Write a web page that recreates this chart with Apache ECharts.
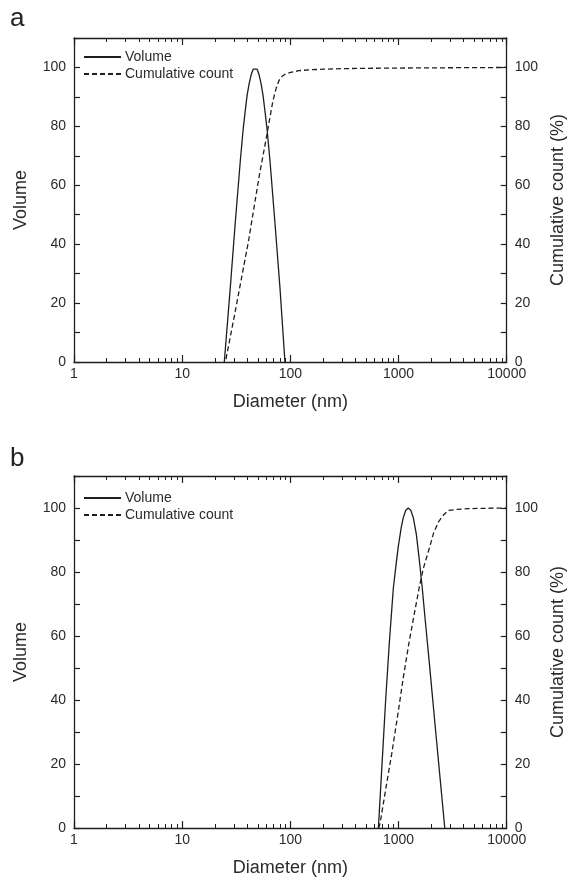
<!DOCTYPE html>
<html>
<head>
<meta charset="utf-8">
<script src="https://cdn.jsdelivr.net/npm/echarts@6/dist/echarts.min.js"></script>
<style>html,body{margin:0;padding:0;background:#fff}#c{width:575px;height:880px}</style>
</head>
<body>
<div id="c"></div>
<script>
// ---- data ----
const panelLabels = ['a', 'b'];
const seriesNames = ['Volume', 'Cumulative count'];
const xTitle = 'Diameter (nm)';
const yLeftTitle = 'Volume';
const yRightTitle = 'Cumulative count (%)';
const xMajorTicks = [1, 10, 100, 1000, 10000];
const xMinorTicks = [2,3,4,5,6,7,8,9,20,30,40,50,60,70,80,90,200,300,400,500,600,700,800,900,2000,3000,4000,5000,6000,7000,8000,9000];

// panel a
const volA_d = [24.5, 27.8, 30.9, 34.4, 36.6, 38.2, 39.8, 41.6, 43.4, 45.3, 47.2, 49.3, 51.4, 53.6, 55.9, 58.3, 60.9, 64.9, 72.1, 80.2, 89.1];
const volA_v = [0, 25, 47, 68, 79, 85, 90.5, 94.5, 97.5, 99.4, 100, 99.4, 97.5, 94.5, 90.5, 85, 79, 68, 47, 25, 0];
const cumA_d = [25.4, 30.5, 36.0, 41, 46.2, 52, 59.2, 64, 69.0, 74, 78.4, 84, 90.3, 100, 119.7, 150, 200, 300, 500, 1000, 3000, 10000];
const cumA_v = [1, 16, 30, 41, 52.6, 64, 75, 82, 88.7, 93, 95.5, 97, 97.8, 98.3, 98.9, 99.2, 99.4, 99.6, 99.7, 99.8, 99.9, 100];

// panel b
const volB_d = [651, 709, 760, 822, 895, 954, 995, 1060, 1106, 1166, 1230, 1297, 1368, 1457, 1553, 1656, 1764, 1920, 2192, 2421, 2674];
const volB_v = [0, 22, 40, 58, 75, 83, 88, 94, 97, 99.3, 100, 99.3, 97, 92, 84, 75, 65, 52, 31, 15.5, 0];
const cumB_d = [655, 675, 760, 863, 980, 1106, 1250, 1417, 1550, 1690, 1947, 2100, 2321, 2600, 2867, 3500, 4375, 6000, 10000];
const cumB_v = [0, 1.5, 12, 23, 35, 47, 58, 68, 75, 81, 88, 92, 95.5, 97.8, 99.2, 99.6, 99.8, 99.9, 100];

// ---- chart ----
const FONT = 'Liberation Sans, Arial, Helvetica, sans-serif';
const INK = '#1e1e1e';
const TXT = '#2a2a2a';
const grids = [
  {left: 74, right: 66, top: 38, height: 324},
  {left: 74, right: 66, top: 476, height: 352}
];
const legendTops = [50, 491];
const labelTops = [6, 446];
const pair = (xs, ys) => xs.map((x, i) => [x, ys[i]]);

const xAxes = [], yAxes = [], series = [], legends = [], graphics = [];
grids.forEach((g, gi) => {
  const baseX = {
    type: 'log', logBase: 10, min: 1, max: 10000, gridIndex: gi,
    splitLine: {show: false}
  };
  // bottom major + labels + name
  xAxes.push(Object.assign({}, baseX, {
    position: 'bottom',
    axisLine: {show: true, onZero: false, lineStyle: {color: INK, width: 1.3}},
    axisTick: {show: true, inside: true, length: 7, customValues: xMajorTicks, lineStyle: {color: INK, width: 1.2}},
    axisLabel: {show: true, customValues: xMajorTicks, margin: 5, color: TXT, fontSize: 14, fontFamily: FONT,
      formatter: v => String(Math.round(v))},
    name: xTitle, nameLocation: 'middle', nameGap: 31,
    nameTextStyle: {color: TXT, fontSize: 18, fontFamily: FONT}
  }));
  // bottom minor
  xAxes.push(Object.assign({}, baseX, {
    position: 'bottom',
    axisLine: {show: false, onZero: false},
    axisTick: {show: true, inside: true, length: 4, customValues: xMinorTicks, lineStyle: {color: INK, width: 1}},
    axisLabel: {show: false}
  }));
  // top major
  xAxes.push(Object.assign({}, baseX, {
    position: 'top',
    axisLine: {show: true, onZero: false, lineStyle: {color: INK, width: 1.3}},
    axisTick: {show: true, inside: true, length: 7, customValues: xMajorTicks, lineStyle: {color: INK, width: 1.2}},
    axisLabel: {show: false}
  }));
  // top minor
  xAxes.push(Object.assign({}, baseX, {
    position: 'top',
    axisLine: {show: false, onZero: false},
    axisTick: {show: true, inside: true, length: 4, customValues: xMinorTicks, lineStyle: {color: INK, width: 1}},
    axisLabel: {show: false}
  }));

  const baseY = {
    type: 'value', min: 0, max: 110, interval: 10, gridIndex: gi,
    splitLine: {show: false},
    axisLine: {show: true, onZero: false, lineStyle: {color: INK, width: 1.3}},
    axisTick: {show: true, inside: true, length: 6, lineStyle: {color: INK, width: 1.2}},
    axisLabel: {
      show: true, margin: 8, color: TXT, fontSize: 14, fontFamily: FONT,
      formatter: v => (v % 20 === 0 && v <= 100) ? String(v) : ''
    },
    nameLocation: 'middle',
    nameTextStyle: {color: TXT, fontSize: 18, fontFamily: FONT}
  };
  yAxes.push(Object.assign({}, baseY, {position: 'left', name: yLeftTitle, nameGap: 44}));
  yAxes.push(Object.assign({}, baseY, {position: 'right', name: yRightTitle, nameGap: 38}));

  const xi = gi * 4, yi = gi * 2;
  const vd = gi === 0 ? pair(volA_d, volA_v) : pair(volB_d, volB_v);
  const cd = gi === 0 ? pair(cumA_d, cumA_v) : pair(cumB_d, cumB_v);
  series.push({
    name: seriesNames[0], type: 'line', xAxisIndex: xi, yAxisIndex: yi,
    data: vd, symbol: 'none', showSymbol: false, smooth: false,
    lineStyle: {color: INK, width: 1.3, type: 'solid'}, itemStyle: {color: INK},
    silent: true, animation: false, z: 3
  });
  series.push({
    name: seriesNames[1], type: 'line', xAxisIndex: xi, yAxisIndex: yi + 1,
    data: cd, symbol: 'none', showSymbol: false, smooth: false,
    lineStyle: {color: INK, width: 1.3, type: [5, 3]}, itemStyle: {color: INK},
    silent: true, animation: false, z: 3
  });

  legends.push({
    data: seriesNames, orient: 'vertical',
    left: 83, top: legendTops[gi], padding: 0,
    itemWidth: 37, itemHeight: 14, itemGap: 3,
    selectedMode: false,
    itemStyle: {opacity: 0, borderWidth: 0},
    textStyle: {color: TXT, fontSize: 14, fontFamily: FONT, padding: [0, 0, 0, -1]}
  });

  graphics.push({
    type: 'text', left: 10, top: labelTops[gi],
    style: {text: panelLabels[gi], fill: '#222', font: '26px ' + FONT}
  });
});

const chart = echarts.init(document.getElementById('c'), null, {renderer: 'canvas'});
chart.setOption({
  backgroundColor: '#fff',
  animation: false,
  grid: grids,
  xAxis: xAxes,
  yAxis: yAxes,
  legend: legends,
  series: series,
  graphic: graphics
});
</script>
</body>
</html>
